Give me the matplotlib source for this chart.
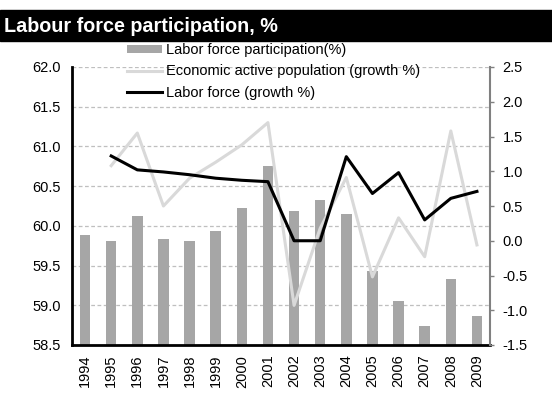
import matplotlib
matplotlib.use("Agg")
import matplotlib.pyplot as plt
from matplotlib.patches import Patch
from matplotlib.lines import Line2D

years = ["1994", "1995", "1996", "1997", "1998", "1999", "2000", "2001",
         "2002", "2003", "2004", "2005", "2006", "2007", "2008", "2009"]
participation = [59.88, 59.81, 60.12, 59.84, 59.81, 59.94, 60.23, 60.75,
                 60.19, 60.32, 60.15, 59.43, 59.05, 58.74, 59.33, 58.86]
econ_years = years[1:]
econ_active_growth = [1.08, 1.55, 0.50, 0.90, 1.13, 1.38, 1.70, -0.93,
                      0.18, 0.91, -0.52, 0.33, -0.23, 1.58, -0.06]
labor_years = years[1:]
labor_force_growth = [1.22, 1.02, 0.99, 0.95, 0.90, 0.87, 0.85, 0.0,
                      0.0, 1.21, 0.68, 0.98, 0.30, 0.61, 0.71]

plt.rcParams['font.family'] = ['Liberation Sans', 'DejaVu Sans']

fig = plt.figure(figsize=(5.52, 4.03), dpi=100)
W, H = 552, 403
ax = fig.add_axes([72 / W, 1 - 345 / H, (490 - 72) / W, (345 - 67) / H])
ax2 = ax.twinx()

x = list(range(len(years)))
xe = [years.index(y) for y in econ_years]
xl = [years.index(y) for y in labor_years]

ax.set_axisbelow(True)
ax.yaxis.grid(True, linestyle=(0, (3, 2)), color='#bfbfbf', linewidth=0.9)
ax.bar(x, participation, width=0.4, color='#a6a6a6', zorder=2)
ax.set_ylim(58.5, 62.0)
ax.set_yticks([58.5, 59.0, 59.5, 60.0, 60.5, 61.0, 61.5, 62.0])
ax.set_yticklabels([f"{v:.1f}" for v in ax.get_yticks()])
ax.set_xlim(-0.5, 15.5)
ax.set_xticks(x)
ax.set_xticklabels(years, rotation=90)

ax2.plot(xe, econ_active_growth, color='#d9d9d9', linewidth=2.2, zorder=3)
ax2.plot(xl, labor_force_growth, color='black', linewidth=2.2, zorder=4)
ax2.set_ylim(-1.5, 2.5)
ax2.set_yticks([-1.5, -1.0, -0.5, 0.0, 0.5, 1.0, 1.5, 2.0, 2.5])
ax2.set_yticklabels([f"{v:.1f}" for v in ax2.get_yticks()])

for a in (ax, ax2):
    a.spines['top'].set_visible(False)
ax.spines['left'].set_linewidth(2)
ax.spines['bottom'].set_linewidth(2)
ax.spines['right'].set_visible(False)
ax2.spines['left'].set_visible(False)
ax2.spines['bottom'].set_visible(False)
ax2.spines['right'].set_color('#808080')
ax2.spines['right'].set_linewidth(1.5)

fs = 10.5
ax.tick_params(axis='y', length=0, labelsize=fs, pad=8)
ax.tick_params(axis='x', length=0, labelsize=fs, pad=7)
ax2.tick_params(axis='y', length=3, color='#808080', width=1, labelsize=fs, pad=6)

# title band
fig.patches.append(plt.Rectangle((0, 1 - 41 / H), 1, 31 / H, transform=fig.transFigure,
                                 color='black', zorder=0))
fig.text(4 / W, 1 - 26 / H, "Labour force participation, %", color='white',
         fontsize=14.2, fontweight='bold', va='center', ha='left')

handles = [Patch(facecolor='#a6a6a6', edgecolor='none'),
           Line2D([0], [0], color='#d9d9d9', linewidth=2.2),
           Line2D([0], [0], color='black', linewidth=2.2)]
labels = ["Labor force participation(%)", "Economic active population (growth %)",
          "Labor force (growth %)"]
fig.legend(handles, labels, loc='upper left', bbox_to_anchor=(127 / W, 1 - 43 / H),
           frameon=False, fontsize=fs, handlelength=2.4, handleheight=0.5,
           labelspacing=0.5, handletextpad=0.3, borderaxespad=0, borderpad=0.0)

fig.savefig("out.png", dpi=100)
